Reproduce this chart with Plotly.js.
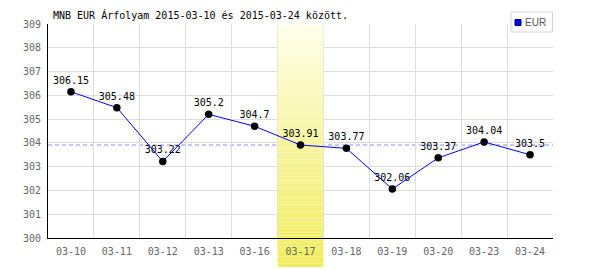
<!DOCTYPE html>
<html>
<head>
<meta charset="utf-8">
<script src="https://cdn.plot.ly/plotly-3.0.1.min.js"></script>
<style>html,body{margin:0;padding:0;background:#fff;}#chart{width:600px;height:270px;}</style>
</head>
<body>
<div id="chart"></div>
<script>
// ---- data ----
var dates = ['03-10','03-11','03-12','03-13','03-16','03-17','03-18','03-19','03-20','03-23','03-24'];
var rates = [306.15,305.48,303.22,305.2,304.7,303.91,303.77,302.06,303.37,304.04,303.5];
var rateLabels = ['306.15','305.48','303.22','305.2','304.7','303.91','303.77','302.06','303.37','304.04','303.5'];
var highlightDate = '03-17';
var yTicks = [300,301,302,303,304,305,306,307,308,309];
var seriesName = 'EUR';
var titleText = 'MNB EUR Árfolyam 2015-03-10 és 2015-03-24 között.';

// ---- layout helpers ----
var W = 600, H = 270;
var mL = 48, mR = 47, mT = 24, mB = 32;
var pw = W - mL - mR, ph = H - mT - mB;
function px2paperX(px){ return (px - mL) / pw; }
function px2paperY(py){ return (H - mB - py) / ph; }
var yMin = yTicks[0], yMax = yTicks[yTicks.length-1];

var hi = dates.indexOf(highlightDate);
var hiValue = rates[hi];

var shapes = [];
// gradient band for highlighted day
var bandTop = 1, bandBot = px2paperY(267);
var N = 70;
var c0 = [255,255,238], c1 = [240,237,96];
for (var i = 0; i < N; i++) {
  var p0 = bandTop - (bandTop - bandBot) * i / N;
  var p1 = bandTop - (bandTop - bandBot) * (i + 1) / N;
  var t = Math.pow((i + 0.5) / N, 0.85);
  var col = 'rgb(' + c0.map(function(v,k){return Math.round(v + (c1[k]-v)*t);}).join(',') + ')';
  if (p1 >= 0) {
    shapes.push({type:'rect', xref:'x', yref:'y', x0: hi-0.5, x1: hi+0.5,
      y0: yMin + (yMax-yMin)*p1, y1: yMin + (yMax-yMin)*p0,
      fillcolor: col, line:{width:0}, layer:'between'});
  } else if (p0 <= 0) {
    shapes.push({type:'rect', xref:'x', yref:'paper', x0: hi-0.5, x1: hi+0.5,
      y0: p1, y1: p0, fillcolor: col, line:{width:0}, layer:'below'});
  } else {
    shapes.push({type:'rect', xref:'x', yref:'y', x0: hi-0.5, x1: hi+0.5,
      y0: yMin, y1: yMin + (yMax-yMin)*p0, fillcolor: col, line:{width:0}, layer:'between'});
    shapes.push({type:'rect', xref:'x', yref:'paper', x0: hi-0.5, x1: hi+0.5,
      y0: p1, y1: 0, fillcolor: col, line:{width:0}, layer:'below'});
  }
}
// reference dashed line at highlighted day's value
shapes.push({type:'line', xref:'paper', yref:'y', x0:0, x1:1, y0:hiValue, y1:hiValue,
  line:{color:'#8c8cff', width:1, dash:'4px,3px'}, layer:'between'});
// custom legend
shapes.push({type:'rect', xref:'paper', yref:'paper',
  x0:px2paperX(511), x1:px2paperX(552.5), y0:px2paperY(32), y1:px2paperY(12),
  fillcolor:'#ffffff', line:{color:'#d4d4d4', width:1}, layer:'above'});
shapes.push({type:'rect', xref:'paper', yref:'paper',
  x0:px2paperX(515), x1:px2paperX(521), y0:px2paperY(25.5), y1:px2paperY(19.5),
  fillcolor:'#0000ff', line:{color:'#000060', width:1}, layer:'above'});

var traces = [{
  type:'scatter', mode:'lines+markers+text', x: dates, y: rates,
  text: rateLabels, textposition:'top center',
  textfont:{family:'DejaVu Sans Mono', size:10, color:'#000'},
  line:{color:'#0000ff', width:1},
  marker:{color:'#000', size:7.5},
  cliponaxis:false, showlegend:false, hoverinfo:'none'
}];

var layout = {
  width: W, height: H,
  margin:{l:mL, r:mR, t:mT, b:mB, pad:0},
  paper_bgcolor:'#fff', plot_bgcolor:'#fff',
  showlegend:false,
  title:{text:titleText, x: 53/W, xanchor:'left', xref:'container',
    y: 1 - 15/H, yanchor:'middle', yref:'container',
    font:{family:'DejaVu Sans Mono', size:10, color:'#000'}},
  xaxis:{type:'category', categoryarray: dates, range:[-0.5, dates.length-0.5],
    tickson:'boundaries', ticks:'', showgrid:true, gridcolor:'#dddddd', gridwidth:1,
    showline:true, linecolor:'#000', linewidth:1, zeroline:false,
    tickfont:{family:'DejaVu Sans Mono', size:10, color:'#666'}, ticklabelstandoff:4,
    fixedrange:true},
  yaxis:{range:[yMin, yMax], tickvals: yTicks, ticktext: yTicks.map(String), ticks:'',
    showgrid:true, gridcolor:'#dddddd', gridwidth:1,
    showline:true, linecolor:'#000', linewidth:1, zeroline:false,
    tickfont:{family:'DejaVu Sans Mono', size:10, color:'#666'}, ticklabelstandoff:4,
    fixedrange:true},
  shapes: shapes,
  annotations:[{xref:'paper', yref:'paper', x:px2paperX(523), y:px2paperY(22),
    xanchor:'left', yanchor:'middle', text: seriesName, showarrow:false,
    font:{family:'Liberation Sans', size:10, color:'#555'}}]
};

Plotly.newPlot('chart', traces, layout, {displayModeBar:false, staticPlot:true});
</script>
</body>
</html>
